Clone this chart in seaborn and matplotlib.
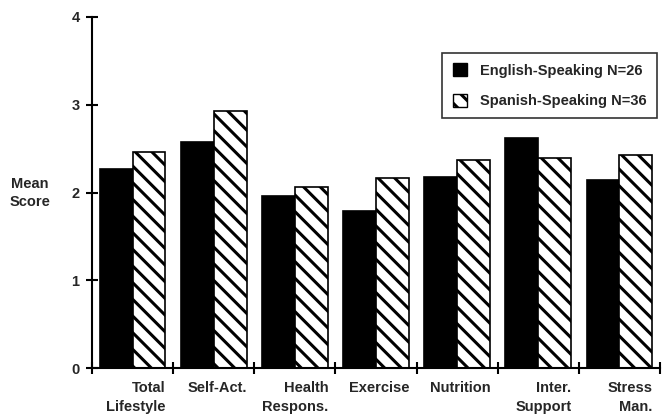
import matplotlib
matplotlib.use("Agg")
import matplotlib.pyplot as plt
import seaborn as sns
import pandas as pd
import matplotlib.transforms as mtrans
from matplotlib.patches import Patch

categories = ["Total\nLifestyle", "Self-Act.", "Health\nRespons.", "Exercise",
              "Nutrition", "Inter.\nSupport", "Stress\nMan."]
english = [2.27, 2.58, 1.96, 1.79, 2.18, 2.62, 2.14]
spanish = [2.46, 2.93, 2.06, 2.17, 2.37, 2.39, 2.43]
groups = ["English-Speaking N=26", "Spanish-Speaking N=36"]
yticks = [0, 1, 2, 3, 4]

sns.set_style("white")
plt.rcParams['font.family'] = ['Liberation Sans', 'DejaVu Sans']
plt.rcParams['font.weight'] = 'bold'
plt.rcParams['hatch.linewidth'] = 2.2
plt.rcParams['hatch.color'] = 'black'

df = pd.DataFrame({
    "cat": categories * 2,
    "score": english + spanish,
    "group": [groups[0]] * len(categories) + [groups[1]] * len(categories),
})

fig = plt.figure(figsize=(6.63, 4.16), dpi=100)
ax = fig.add_axes([92 / 663, 1 - 368 / 416, 568 / 663, 351 / 416])

sns.barplot(data=df, x="cat", y="score", hue="group", order=categories,
            hue_order=groups, palette=["black", "white"], width=0.81,
            edgecolor="black", linewidth=1.2, ax=ax, legend=False)

HATCH = "\\\\"
for bar in ax.containers[1]:
    bar.set_hatch(HATCH)
    bar.set_edgecolor("black")

ax.set_xlim(-0.5, len(categories) - 0.5)
ax.set_ylim(0, 4)
ax.set_yticks(yticks)
ax.set_yticklabels([str(t) for t in yticks], fontsize=10.5, fontweight='bold')
ax.set_xticks([i - 0.5 for i in range(len(categories) + 1)])
ax.set_xticklabels([])
ax.set_xlabel("")
ax.set_ylabel("")

for s in ["top", "right"]:
    ax.spines[s].set_visible(False)
for s in ["left", "bottom"]:
    ax.spines[s].set_linewidth(1.5)
    ax.spines[s].set_color("black")
ax.tick_params(axis="both", which="major", bottom=True, left=True,
               direction="inout", length=8, width=1.5, color="black")
ax.tick_params(axis="y", pad=5)

trans = mtrans.blended_transform_factory(ax.transData, ax.transAxes)
for i, c in enumerate(categories):
    ax.text(i + 0.5 - 0.09, -0.038, c, transform=trans, ha="right", va="top",
            multialignment="right", fontsize=10.5, fontweight="bold", linespacing=1.4)

fig.text(30 / 663, 1 - 193 / 416, "Mean\nScore", ha="center", va="center",
         fontsize=10.5, fontweight="bold", linespacing=1.35)

handles = [Patch(facecolor="black", edgecolor="black"),
           Patch(facecolor="white", edgecolor="black", hatch=HATCH)]
leg = ax.legend(handles, groups, loc="upper right", bbox_to_anchor=(0.995, 0.898),
                frameon=True, fancybox=False, edgecolor="black", fontsize=10.5,
                handlelength=1.0, handleheight=1.0, borderpad=0.7, labelspacing=1.1,
                handletextpad=0.9, borderaxespad=0)
leg.get_frame().set_linewidth(1.2)
for t in leg.get_texts():
    t.set_fontweight("bold")

fig.savefig("out.png", dpi=100)
